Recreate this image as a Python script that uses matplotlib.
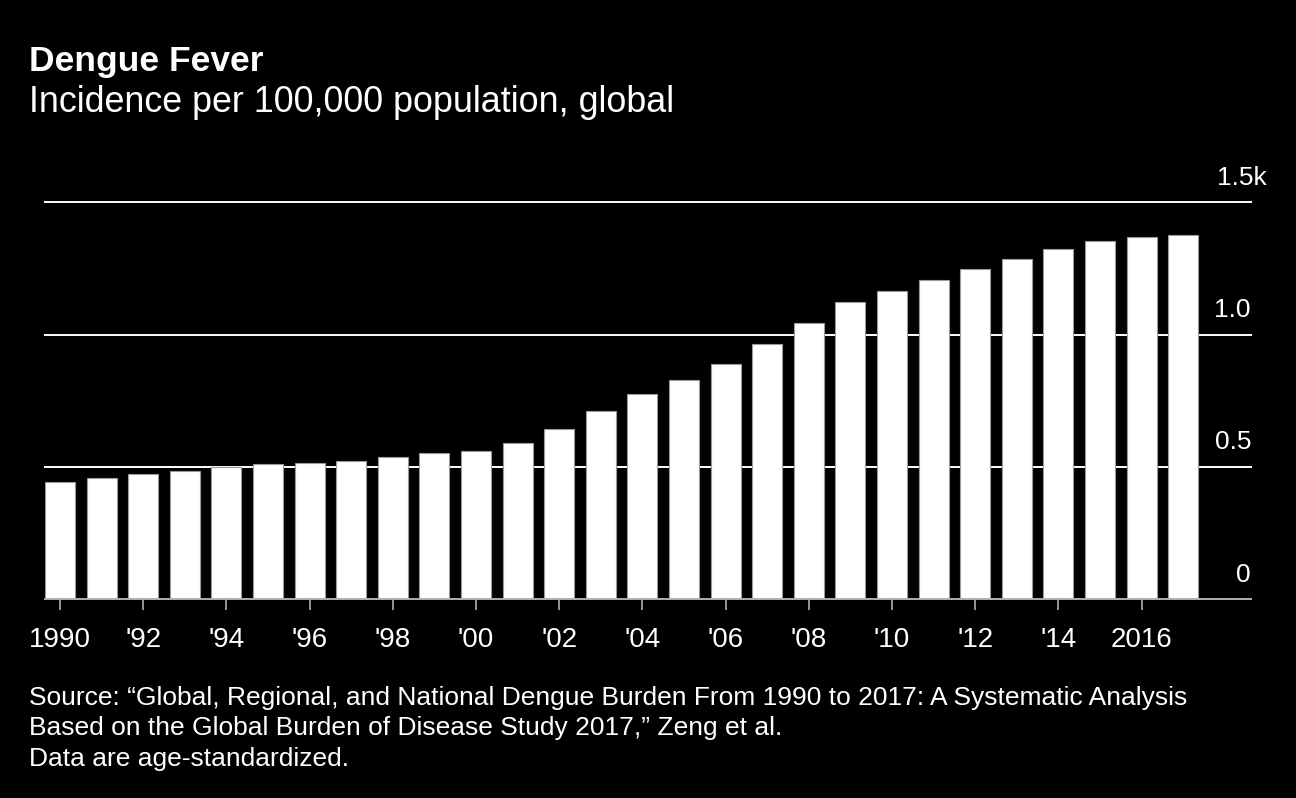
import matplotlib
matplotlib.use('Agg')

import matplotlib.pyplot as plt
from matplotlib.transforms import blended_transform_factory

# data (incidence per 100,000)
years = list(range(1990, 2018))
incidence = [441, 456, 471, 485, 501, 509, 516, 523, 538, 553,
             560, 590, 642, 710, 777, 830, 890, 965, 1046, 1122,
             1166, 1205, 1249, 1287, 1325, 1355, 1369, 1376]
tick_years = list(range(1990, 2017, 2))
tick_labels = ['1990', "'92", "'94", "'96", "'98", "'00", "'02", "'04",
               "'06", "'08", "'10", "'12", "'14", '2016']
y_ticks = [0, 500, 1000, 1500]
y_labels = ['0', '0.5', '1.0', '1.5k']

title = 'Dengue Fever'
subtitle = 'Incidence per 100,000 population, global'
source_lines = [
    'Source: \u201cGlobal, Regional, and National Dengue Burden From 1990 to 2017: A Systematic Analysis',
    'Based on the Global Burden of Disease Study 2017,\u201d Zeng et al.',
    'Data are age-standardized.',
]

plt.rcParams['font.family'] = ['Liberation Sans', 'DejaVu Sans']

W, H = 1296, 798
fig = plt.figure(figsize=(W / 100, H / 100), dpi=100, facecolor='black')
ax = fig.add_axes([45 / W, 1 - 599 / H, (1251 - 45) / W, (599 - 202.5) / H])
ax.set_facecolor('black')

# grid lines behind bars
for v in y_ticks[1:]:
    ax.axhline(v, color='white', lw=1.4, zorder=1, clip_on=False)
ax.axhline(0, color='#b0b0b0', lw=1.4, zorder=3, clip_on=False)

ax.bar(years, incidence, width=0.72, color='white', edgecolor='#9a9a9a',
       linewidth=0.8, zorder=2)

ax.set_xlim(1989.64, 2018.63)
ax.set_ylim(0, 1500)

for s in ax.spines.values():
    s.set_visible(False)

ax.set_yticks([])
ax.set_xticks(tick_years)
ax.set_xticklabels(tick_labels, fontsize=20, color='white')
ax.tick_params(axis='x', length=8, width=1.2, color='#b0b0b0', pad=12)

# y labels sit above their grid lines, on the right
trans = blended_transform_factory(ax.transAxes, ax.transData)
for v, lab in zip(y_ticks, y_labels):
    dx = 11.5 if lab.endswith('k') else 0
    ax.annotate(lab, xy=(1, v), xycoords=trans, xytext=(dx, 12.5),
                textcoords='offset points', ha='right', va='baseline',
                fontsize=19, color='white')

fig.text(29 / W, 1 - 62 / H, title, fontsize=25.5, fontweight='bold',
         color='white', va='center', ha='left')
fig.text(29 / W, 1 - 103 / H, subtitle, fontsize=25.8,
         color='white', va='center', ha='left')

for i, line in enumerate(source_lines):
    fig.text(29 / W, 1 - (698 + 30.5 * i) / H, line, fontsize=19,
             color='white', va='center', ha='left')

fig.savefig('out.png', dpi=100, facecolor='black')
